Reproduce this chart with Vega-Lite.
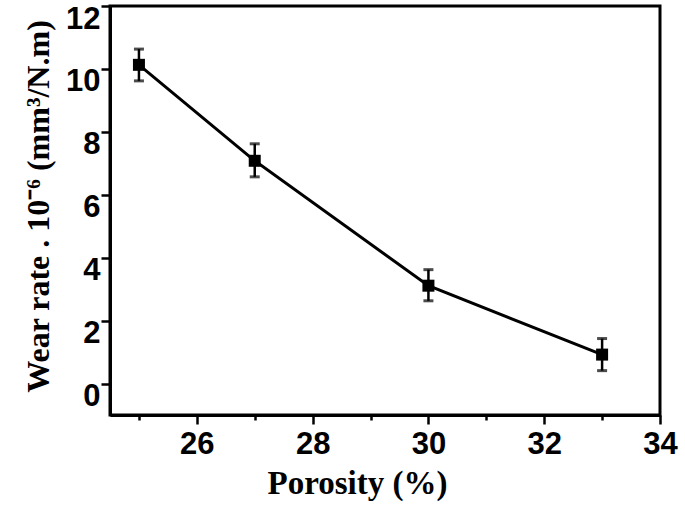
{
  "$schema": "https://vega.github.io/schema/vega-lite/v6.json",
  "width": 550,
  "height": 409,
  "autosize": "none",
  "padding": {"left": 110, "top": 6, "right": 25, "bottom": 93},
  "background": "white",
  "config": {
    "view": {"stroke": "black", "strokeWidth": 3},
    "axis": {
      "domainColor": "black",
      "domainWidth": 3,
      "tickColor": "black",
      "tickWidth": 2.5,
      "labelColor": "black",
      "labelFont": "Liberation Sans",
      "labelFontWeight": "bold",
      "labelFontSize": 31,
      "titleColor": "black",
      "titleFont": "Liberation Serif",
      "titleFontWeight": "bold",
      "grid": false
    }
  },
  "data": {
    "values": [
      {"porosity": 25, "wear": 10.13, "lo": 9.62, "hi": 10.63},
      {"porosity": 27, "wear": 7.08, "lo": 6.57, "hi": 7.62},
      {"porosity": 30, "wear": 3.11, "lo": 2.63, "hi": 3.62},
      {"porosity": 33, "wear": 0.92, "lo": 0.41, "hi": 1.43}
    ]
  },
  "encoding": {
    "x": {
      "field": "porosity",
      "type": "quantitative",
      "scale": {"domain": [24.5, 34], "nice": false, "zero": false},
      "axis": {
        "title": "Porosity (%)",
        "titleFontSize": 33,
        "titleX": 247,
        "titleY": 78,
        "titleAlign": "center",
        "titleBaseline": "alphabetic",
        "values": [25, 26, 27, 28, 29, 30, 31, 32, 33, 34],
        "labelExpr": "datum.value % 2 == 0 ? datum.label : ''",
        "tickSize": {"condition": {"test": "datum.value % 2 == 0", "value": 9}, "value": 5},
        "labelPadding": 5,
        "labelFlush": false,
        "labelOverlap": false
      }
    },
    "y": {
      "field": "wear",
      "type": "quantitative",
      "scale": {"domain": [-1, 12], "nice": false, "zero": false},
      "axis": {
        "title": "Wear rate . 10⁻⁶ (mm³/N.m)",
        "titleFontSize": 32,
        "titleAngle": -90,
        "titleX": -62,
        "titleY": 200,
        "titleAlign": "center",
        "titleBaseline": "alphabetic",
        "values": [0, 2, 4, 6, 8, 10, 12],
        "tickSize": 9,
        "labelPadding": 1,
        "labelOffset": 13,
        "labelFlush": false,
        "labelOverlap": false
      }
    }
  },
  "layer": [
    {"mark": {"type": "line", "color": "black", "strokeWidth": 3}},
    {
      "mark": {"type": "rule", "color": "black", "strokeWidth": 2.5},
      "encoding": {"y": {"field": "lo", "type": "quantitative"}, "y2": {"field": "hi"}}
    },
    {
      "mark": {"type": "tick", "orient": "horizontal", "color": "black", "thickness": 3, "size": 10},
      "encoding": {"y": {"field": "lo", "type": "quantitative"}}
    },
    {
      "mark": {"type": "tick", "orient": "horizontal", "color": "black", "thickness": 3, "size": 10},
      "encoding": {"y": {"field": "hi", "type": "quantitative"}}
    },
    {"mark": {"type": "square", "color": "black", "filled": true, "opacity": 1, "size": 144}}
  ]
}
